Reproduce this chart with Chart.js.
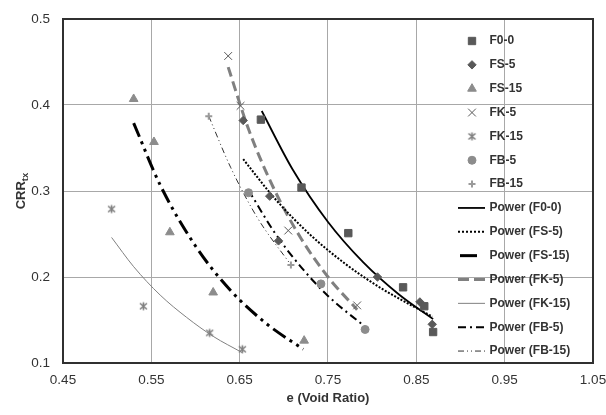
<!DOCTYPE html>
<html><head><meta charset="utf-8">
<script src="https://cdn.jsdelivr.net/npm/chart.js@4"></script>
<style>html,body{margin:0;padding:0;background:#fff}#wrap{width:606px;height:415px;position:relative}</style>
</head><body><div id="wrap"><canvas id="c" width="606" height="415"></canvas></div>
<script>
// ---- measured data (void ratio e, CRRtx) ----
const eF00 = [0.674, 0.720, 0.773, 0.835, 0.859, 0.869];
const crrF00 = [0.383, 0.304, 0.251, 0.188, 0.166, 0.136];
const eFS5 = [0.654, 0.684, 0.694, 0.806, 0.854, 0.868];
const crrFS5 = [0.382, 0.294, 0.242, 0.200, 0.171, 0.145];
const eFS15 = [0.530, 0.553, 0.571, 0.620, 0.723];
const crrFS15 = [0.407, 0.357, 0.252, 0.182, 0.126];
const eFK5 = [0.637, 0.651, 0.705, 0.783];
const crrFK5 = [0.457, 0.399, 0.254, 0.167];
const eFK15 = [0.505, 0.541, 0.616, 0.653];
const crrFK15 = [0.279, 0.166, 0.135, 0.116];
const eFB5 = [0.660, 0.742, 0.792];
const crrFB5 = [0.298, 0.192, 0.139];
const eFB15 = [0.615, 0.708];
const crrFB15 = [0.387, 0.214];

// ---- power trendlines ----
const tF00x = [0.675, 0.71, 0.75, 0.79, 0.83, 0.869];
const tF00y = [0.393, 0.325, 0.264, 0.217, 0.180, 0.151];
const tFS5x = [0.654, 0.69, 0.73, 0.77, 0.81, 0.868];
const tFS5y = [0.337, 0.291, 0.249, 0.215, 0.187, 0.154];
const tFS15x = [0.53, 0.56, 0.60, 0.64, 0.68, 0.722];
const tFS15y = [0.379, 0.307, 0.236, 0.184, 0.146, 0.116];
const tFK5x = [0.637, 0.66, 0.69, 0.72, 0.75, 0.783];
const tFK5y = [0.444, 0.372, 0.300, 0.244, 0.200, 0.162];
const tFK15x = [0.505, 0.53, 0.56, 0.59, 0.62, 0.653];
const tFK15y = [0.246, 0.212, 0.179, 0.153, 0.131, 0.112];
const tFB5x = [0.660, 0.69, 0.72, 0.75, 0.792];
const tFB5y = [0.301, 0.251, 0.211, 0.178, 0.142];
const tFB15x = [0.615, 0.64, 0.67, 0.708];
const tFB15y = [0.387, 0.327, 0.269, 0.214];

// ---- axes ----
const xTickValues = [0.45, 0.55, 0.65, 0.75, 0.85, 0.95, 1.05];
const xTickLabels = ['0.45', '0.55', '0.65', '0.75', '0.85', '0.95', '1.05'];
const yTickValues = [0.1, 0.2, 0.3, 0.4, 0.5];
const yTickLabels = ['0.1', '0.2', '0.3', '0.4', '0.5'];
const xTitle = 'e (Void Ratio)';
const yTitleMain = 'CRR';
const yTitleSub = 'tx';

function zip(xs, ys) { return xs.map((x, i) => ({ x: x, y: ys[i] })); }

// asterisk marker (x with a vertical bar)
function makeAsterisk(color) {
  const c = document.createElement('canvas');
  c.width = 11; c.height = 11;
  const g = c.getContext('2d');
  g.strokeStyle = color; g.lineWidth = 1.6;
  g.beginPath();
  g.moveTo(2, 2.5); g.lineTo(9, 8.5);
  g.moveTo(9, 2.5); g.lineTo(2, 8.5);
  g.moveTo(5.5, 1.5); g.lineTo(5.5, 9.5);
  g.stroke();
  return c;
}
const asterisk = makeAsterisk('#7f7f7f');

function pts(label, xs, ys, style, r, color, bw) {
  return {
    label: label, data: zip(xs, ys), showLine: false,
    pointStyle: style, pointRadius: r, pointHoverRadius: r,
    backgroundColor: color, borderColor: color, pointBorderWidth: bw || 1
  };
}
function trend(label, xs, ys, color, width, dash, legendDash, legendStart) {
  return {
    label: label, data: zip(xs, ys), showLine: true, pointRadius: 0, pointHoverRadius: 0,
    borderColor: color, backgroundColor: color, borderWidth: width, borderDash: dash,
    fill: false, cubicInterpolationMode: 'monotone', isTrend: true,
    legendDash: legendDash, legendStart: legendStart || 458
  };
}

const datasets = [
  pts('F0-0', eF00, crrF00, 'rect', 5.2, '#595959'),
  pts('FS-5', eFS5, crrFS5, 'rectRot', 4.2, '#595959'),
  pts('FS-15', eFS15, crrFS15, 'triangle', 5, '#8c8c8c'),
  pts('FK-5', eFK5, crrFK5, 'crossRot', 5.5, '#595959'),
  pts('FK-15', eFK15, crrFK15, asterisk, 5.5, '#7f7f7f'),
  pts('FB-5', eFB5, crrFB5, 'circle', 4, '#8c8c8c'),
  pts('FB-15', eFB15, crrFB15, 'cross', 3.5, '#9a9a9a', 2),
  trend('Power (F0-0)', tF00x, tF00y, '#000000', 1.8, [], []),
  trend('Power (FS-5)', tFS5x, tFS5y, '#000000', 2, [2, 1.6], [2, 2]),
  trend('Power (FS-15)', tFS15x, tFS15y, '#000000', 3, [15, 5, 3, 5, 3, 5], [17, 30], 460),
  trend('Power (FK-5)', tFK5x, tFK5y, '#808080', 3, [10, 5], [11, 5]),
  trend('Power (FK-15)', tFK15x, tFK15y, '#808080', 1, [], []),
  trend('Power (FB-5)', tFB5x, tFB5y, '#000000', 2, [8, 4, 2, 4], [8, 4, 2, 4]),
  trend('Power (FB-15)', tFB15x, tFB15y, '#303030', 1, [6, 3, 1, 3, 1, 3], [6, 3, 1, 3, 1, 3])
];

const FONT = "'Liberation Sans', Arial, sans-serif";
const TEXT = '#333333';

const decor = {
  id: 'decor',
  afterDraw(chart) {
    const ctx = chart.ctx, a = chart.chartArea;
    ctx.save();
    // plot box
    ctx.strokeStyle = '#303030'; ctx.lineWidth = 2;
    ctx.strokeRect(a.left, a.top, a.right - a.left, a.bottom - a.top);
    // axis titles
    ctx.fillStyle = TEXT;
    ctx.font = 'bold 13px ' + FONT;
    ctx.textAlign = 'center'; ctx.textBaseline = 'middle';
    ctx.fillText(xTitle, (a.left + a.right) / 2, 398);
    ctx.save();
    ctx.translate(20, 191);
    ctx.rotate(-Math.PI / 2);
    ctx.font = 'bold 13px ' + FONT;
    const w1 = ctx.measureText(yTitleMain).width;
    ctx.font = 'bold 9.5px ' + FONT;
    const w2 = ctx.measureText(yTitleSub).width;
    const start = -(w1 + w2) / 2;
    ctx.textAlign = 'left'; ctx.textBaseline = 'alphabetic';
    ctx.font = 'bold 13px ' + FONT;
    ctx.fillText(yTitleMain, start, 5);
    ctx.font = 'bold 9.5px ' + FONT;
    ctx.fillText(yTitleSub, start + w1, 8);
    ctx.restore();
    // legend (inside plot, transparent)
    const x0 = 472, tx = 489.5, y0 = 41, dy = 23.85;
    chart.data.datasets.forEach((ds, i) => {
      const y = y0 + i * dy;
      ctx.save();
      if (ds.isTrend) {
        ctx.strokeStyle = ds.borderColor; ctx.lineWidth = ds.borderWidth;
        ctx.setLineDash(ds.legendDash);
        ctx.beginPath();
        ctx.moveTo(ds.legendStart, y); ctx.lineTo(485, y); ctx.stroke();
      } else {
        ctx.fillStyle = ds.backgroundColor; ctx.strokeStyle = ds.borderColor;
        ctx.lineWidth = ds.pointBorderWidth;
        Chart.helpers.drawPoint(ctx, {
          pointStyle: ds.pointStyle, radius: ds.pointRadius, rotation: 0,
          borderWidth: ds.pointBorderWidth
        }, x0, y);
      }
      ctx.restore();
      ctx.fillStyle = TEXT;
      ctx.font = 'bold 12px ' + FONT;
      ctx.textAlign = 'left'; ctx.textBaseline = 'middle';
      ctx.fillText(ds.label, tx, y);
    });
    ctx.restore();
  }
};

new Chart(document.getElementById('c'), {
  type: 'scatter',
  data: { datasets: datasets },
  options: {
    responsive: false, animation: false, devicePixelRatio: 1,
    layout: { padding: { top: 19, right: 13, left: 0, bottom: 0 } },
    plugins: { legend: { display: false }, tooltip: { enabled: false } },
    scales: {
      x: {
        type: 'linear', min: 0.45, max: 1.05,
        afterBuildTicks: s => { s.ticks = xTickValues.map(v => ({ value: v })); },
        afterFit: s => { s.height = 52; s.paddingRight = 0; s.paddingLeft = 0; },
        grid: { color: '#a8a8a8', lineWidth: 1, drawTicks: false },
        border: { display: false },
        ticks: { padding: 9, autoSkip: false, maxRotation: 0, color: TEXT,
          font: { family: FONT, size: 13.5 }, callback: (v, i) => xTickLabels[i] }
      },
      y: {
        type: 'linear', min: 0.1, max: 0.5,
        afterBuildTicks: s => { s.ticks = yTickValues.map(v => ({ value: v })); },
        afterFit: s => { s.width = 63; s.paddingTop = 0; s.paddingBottom = 0; },
        grid: { color: '#a8a8a8', lineWidth: 1, drawTicks: false },
        border: { display: false },
        ticks: { padding: 13, color: TEXT,
          font: { family: FONT, size: 13.5 }, callback: (v, i) => yTickLabels[i] }
      }
    }
  },
  plugins: [decor]
});
</script></body></html>
